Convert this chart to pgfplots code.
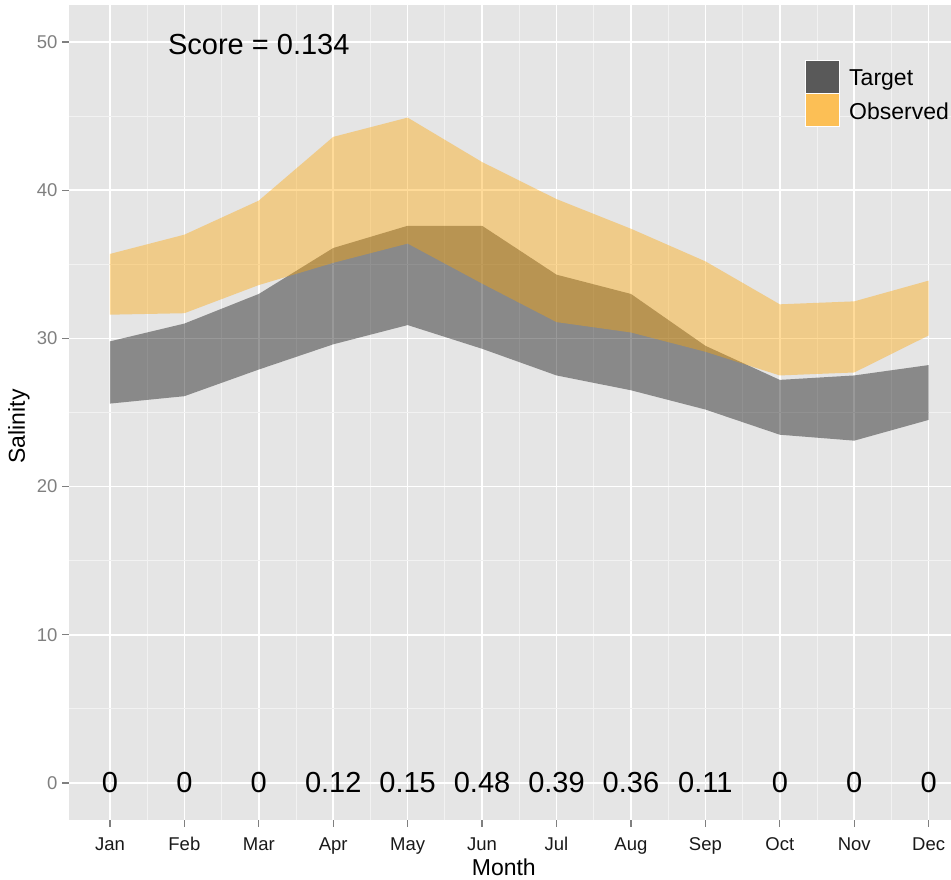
\documentclass[border=0pt]{standalone}
\usepackage{fontspec}
\setmainfont{Liberation Sans}
\usepackage{pgfplots}
\pgfplotsset{compat=1.18}
\usepackage{pgfplotstable}
\usepgfplotslibrary{fillbetween}

\definecolor{panelgrey}{HTML}{E5E5E5}
\definecolor{minorgrid}{HTML}{F2F2F2}
\definecolor{grey50}{HTML}{7F7F7F}
\definecolor{obsorange}{RGB}{255,165,0}
\definecolor{keygrey}{HTML}{595959}
\definecolor{keyorange}{HTML}{FCBF55}

% month, target band (lo/hi), observed band (lo/hi)
\pgfplotstableread{
m  tlo   thi   olo   ohi
1  25.6  29.8  31.6  35.7
2  26.1  31.0  31.7  37.0
3  27.9  33.0  33.6  39.3
4  29.6  36.1  35.1  43.6
5  30.9  37.6  36.4  44.9
6  29.3  37.6  33.7  41.9
7  27.5  34.3  31.1  39.4
8  26.5  33.0  30.4  37.4
9  25.2  29.5  29.1  35.2
10 23.5  27.2  27.5  32.3
11 23.1  27.5  27.7  32.5
12 24.5  28.2  30.2  33.9
}\salinity

\pgfplotstableread{
m  y  lab
1  0  0
2  0  0
3  0  0
4  0  0.12
5  0  0.15
6  0  0.48
7  0  0.39
8  0  0.36
9  0  0.11
10 0  0
11 0  0
12 0  0
}\overlap

\begin{document}
\begin{tikzpicture}
\begin{axis}[
    name=ax,
    at={(0,0)}, anchor=south west,
    width=882pt, height=815pt,
    scale only axis,
    xmin=0.45, xmax=12.30,
    ymin=-2.5, ymax=52.5,
    axis background/.style={fill=panelgrey},
    axis line style={draw=none},
    xtick={1,...,12},
    xticklabels={Jan,Feb,Mar,Apr,May,Jun,Jul,Aug,Sep,Oct,Nov,Dec},
    minor xtick={1.5,2.5,...,11.5},
    ytick={0,10,...,50},
    minor ytick={5,15,...,45},
    grid=both,
    major grid style={white, line width=1.6pt},
    minor grid style={minorgrid, line width=0.8pt},
    tick align=outside,
    tick pos=left,
    major tick length=7pt,
    minor tick length=0pt,
    major tick style={grey50, line width=1.2pt},
    /pgf/number format/assume math mode=true,
    xticklabel style={font=\fontsize{18.5}{20}\selectfont, text=black!90, yshift=-7pt},
    yticklabel style={font=\fontsize{18.5}{20}\selectfont, text=grey50, xshift=-1pt},
    xlabel={Month},
    xlabel style={font=\fontsize{23}{25}\selectfont, at={(rel axis cs:0.493,0)}, anchor=center, yshift=-47pt},
    ylabel={Salinity},
    ylabel style={font=\fontsize{23}{25}\selectfont, at={(rel axis cs:0,0.483)}, anchor=center, yshift=50pt},
]
\addplot[draw=none, name path=tlo] table[x=m, y=tlo] {\salinity};
\addplot[draw=none, name path=thi] table[x=m, y=thi] {\salinity};
\addplot[draw=none, name path=olo] table[x=m, y=olo] {\salinity};
\addplot[draw=none, name path=ohi] table[x=m, y=ohi] {\salinity};
\addplot[fill=black, fill opacity=0.4, draw=none] fill between[of=tlo and thi];
\addplot[fill=obsorange, fill opacity=0.4, draw=none] fill between[of=olo and ohi];

\addplot[draw=none, mark=none, nodes near coords, point meta=explicit symbolic,
    every node near coord/.style={anchor=center, inner sep=0pt, font=\fontsize{29}{30}\selectfont}]
    table[x=m, y=y, meta=lab] {\overlap};

\node[font=\fontsize{29}{30}\selectfont] at (axis cs:3,49.8) {Score = 0.134};
\end{axis}

% legend
\fill[keygrey, draw=white, line width=0.6pt] ([shift={(736pt,726.7pt)}]ax.south west) rectangle ([shift={(770pt,759.3pt)}]ax.south west);
\fill[keyorange, draw=white, line width=0.6pt] ([shift={(736pt,694pt)}]ax.south west) rectangle ([shift={(770pt,726.7pt)}]ax.south west);
\node[anchor=base west, inner sep=0pt, font=\fontsize{23}{25}\selectfont] at ([shift={(780pt,734pt)}]ax.south west) {Target};
\node[anchor=base west, inner sep=0pt, font=\fontsize{23}{25}\selectfont] at ([shift={(780pt,700pt)}]ax.south west) {Observed};

\pgfresetboundingbox
\path ([xshift=-69pt, yshift=-60pt]ax.south west) rectangle ([yshift=5pt]ax.north east);
\end{tikzpicture}
\end{document}
